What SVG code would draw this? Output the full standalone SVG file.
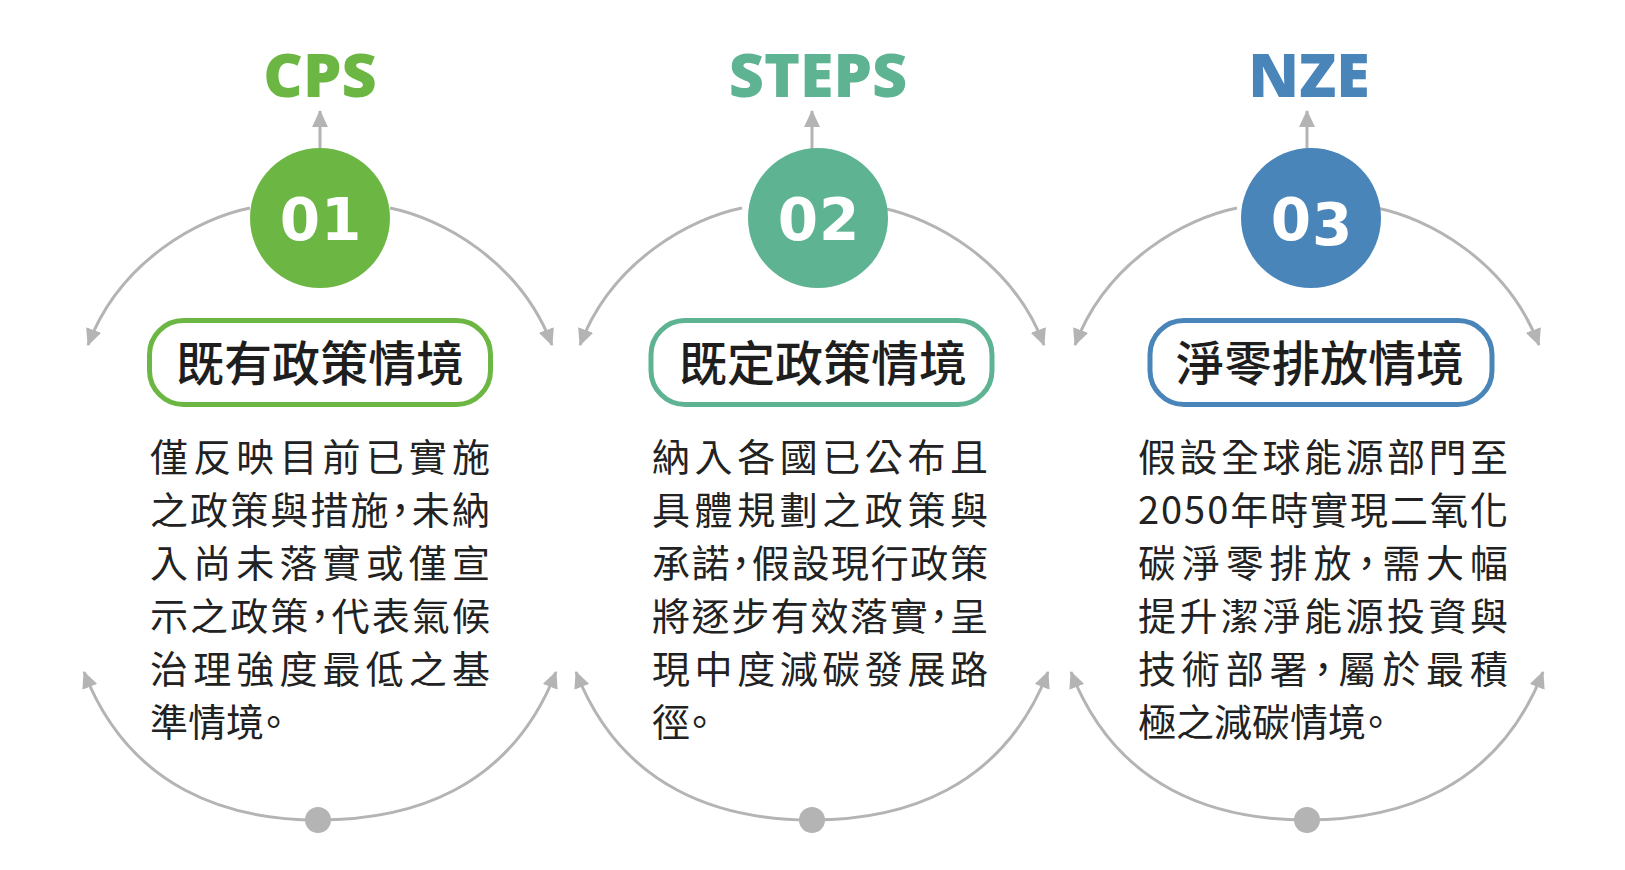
<svg xmlns="http://www.w3.org/2000/svg" width="1625" height="870" viewBox="0 0 1625 870">
<style>
.title{font-family:"Open Sans","Liberation Sans",sans-serif;font-weight:800;font-size:61px;text-anchor:middle}
.num{font-family:"DejaVu Sans","Open Sans",sans-serif;font-weight:700;font-size:58px;fill:#fff;text-anchor:middle;letter-spacing:1px}
.pill{fill:#fff;stroke-width:5}
.ptxt{font-family:"Noto Sans CJK TC","Noto Sans CJK SC",sans-serif;font-weight:500;font-size:48px;fill:#1e1e1e;text-anchor:middle}
.body{font-family:"Noto Sans CJK TC","Noto Sans CJK SC",sans-serif;font-size:38px;fill:#222;font-feature-settings:"halt"}
.arc{fill:none;stroke:#b4b4b4;stroke-width:3}
.dot{fill:#b4b4b4}
.g1{fill:#6cb744}.g1s{stroke:#6cb744}
.g2{fill:#5db392}.g2s{stroke:#5db392}
.g3{fill:#4a85b9}.g3s{stroke:#4a85b9}
</style>
<defs>
<marker id="ah" markerUnits="userSpaceOnUse" markerWidth="18" markerHeight="16" refX="16" refY="8" orient="auto">
<path d="M0,0 L17,8 L0,16 z" fill="#b4b4b4"/>
</marker>
</defs>
<rect width="1625" height="870" fill="#fff"/>
<g id="connectors">
<path class="arc" d="M250,208 C200,218 120,260 88,345" marker-end="url(#ah)"/>
<path class="arc" d="M390,208 C440,218 520,260 552,345" marker-end="url(#ah)"/>
<path class="arc" d="M318,820 C230,820 130,790 84,672" marker-end="url(#ah)"/>
<path class="arc" d="M318,820 C410,820 510,790 556,672" marker-end="url(#ah)"/>
<line class="arc" x1="320" y1="150" x2="320" y2="111" marker-end="url(#ah)"/>
<circle class="dot" cx="318" cy="820" r="13"/>
<path class="arc" d="M742,208 C692,218 612,260 580,345" marker-end="url(#ah)"/>
<path class="arc" d="M882,208 C932,218 1012,260 1044,345" marker-end="url(#ah)"/>
<path class="arc" d="M812,820 C722,820 622,790 576,672" marker-end="url(#ah)"/>
<path class="arc" d="M812,820 C902,820 1002,790 1048,672" marker-end="url(#ah)"/>
<line class="arc" x1="812" y1="150" x2="812" y2="111" marker-end="url(#ah)"/>
<circle class="dot" cx="812" cy="820" r="13"/>
<path class="arc" d="M1237,208 C1187,218 1107,260 1075,345" marker-end="url(#ah)"/>
<path class="arc" d="M1377,208 C1427,218 1507,260 1539,345" marker-end="url(#ah)"/>
<path class="arc" d="M1307,820 C1217,820 1117,790 1071,672" marker-end="url(#ah)"/>
<path class="arc" d="M1307,820 C1397,820 1497,790 1543,672" marker-end="url(#ah)"/>
<line class="arc" x1="1307" y1="150" x2="1307" y2="111" marker-end="url(#ah)"/>
<circle class="dot" cx="1307" cy="820" r="13"/>
</g>
<g id="node-cps">
<text class="title g1" x="320" y="97">CPS</text>
<circle class="g1" cx="320" cy="218" r="70"/>
<text class="num" x="321" y="240">01</text>
<rect class="pill g1s" x="149.5" y="320.5" width="341" height="84" rx="34"/>
<text class="ptxt" x="320" y="381">既有政策情境</text>
<text class="body" x="150" y="471" textLength="340" lengthAdjust="spacing">僅反映目前已實施</text>
<text class="body" x="150" y="524" textLength="340" lengthAdjust="spacing">之政策與措施，未納</text>
<text class="body" x="150" y="577" textLength="340" lengthAdjust="spacing">入尚未落實或僅宣</text>
<text class="body" x="150" y="630" textLength="340" lengthAdjust="spacing">示之政策，代表氣候</text>
<text class="body" x="150" y="683" textLength="340" lengthAdjust="spacing">治理強度最低之基</text>
<text class="body" x="150" y="736">準情境。</text>
</g>
<g id="node-steps">
<text class="title g2" x="818" y="97">STEPS</text>
<circle class="g2" cx="818" cy="218" r="70"/>
<text class="num" x="819" y="240">02</text>
<rect class="pill g2s" x="651" y="320.5" width="341" height="84" rx="34"/>
<text class="ptxt" x="823" y="381">既定政策情境</text>
<text class="body" x="652" y="471" textLength="336" lengthAdjust="spacing">納入各國已公布且</text>
<text class="body" x="652" y="524" textLength="336" lengthAdjust="spacing">具體規劃之政策與</text>
<text class="body" x="652" y="577" textLength="336" lengthAdjust="spacing">承諾，假設現行政策</text>
<text class="body" x="652" y="630" textLength="336" lengthAdjust="spacing">將逐步有效落實，呈</text>
<text class="body" x="652" y="683" textLength="336" lengthAdjust="spacing">現中度減碳發展路</text>
<text class="body" x="652" y="736">徑。</text>
</g>
<g id="node-nze">
<text class="title g3" x="1309" y="97">NZE</text>
<circle class="g3" cx="1311" cy="218" r="70"/>
<text class="num" x="1312" y="240">0<tspan dy="5">3</tspan></text>
<rect class="pill g3s" x="1150" y="320.5" width="342" height="84" rx="34"/>
<text class="ptxt" x="1320" y="381">淨零排放情境</text>
<text class="body" x="1138" y="471" textLength="370" lengthAdjust="spacing">假設全球能源部門至</text>
<text class="body" x="1138" y="524" textLength="370" lengthAdjust="spacing">2050年時實現二氧化</text>
<text class="body" x="1138" y="577" textLength="370" lengthAdjust="spacing">碳淨零排放，需大幅</text>
<text class="body" x="1138" y="630" textLength="370" lengthAdjust="spacing">提升潔淨能源投資與</text>
<text class="body" x="1138" y="683" textLength="370" lengthAdjust="spacing">技術部署，屬於最積</text>
<text class="body" x="1138" y="736">極之減碳情境。</text>
</g>
</svg>
